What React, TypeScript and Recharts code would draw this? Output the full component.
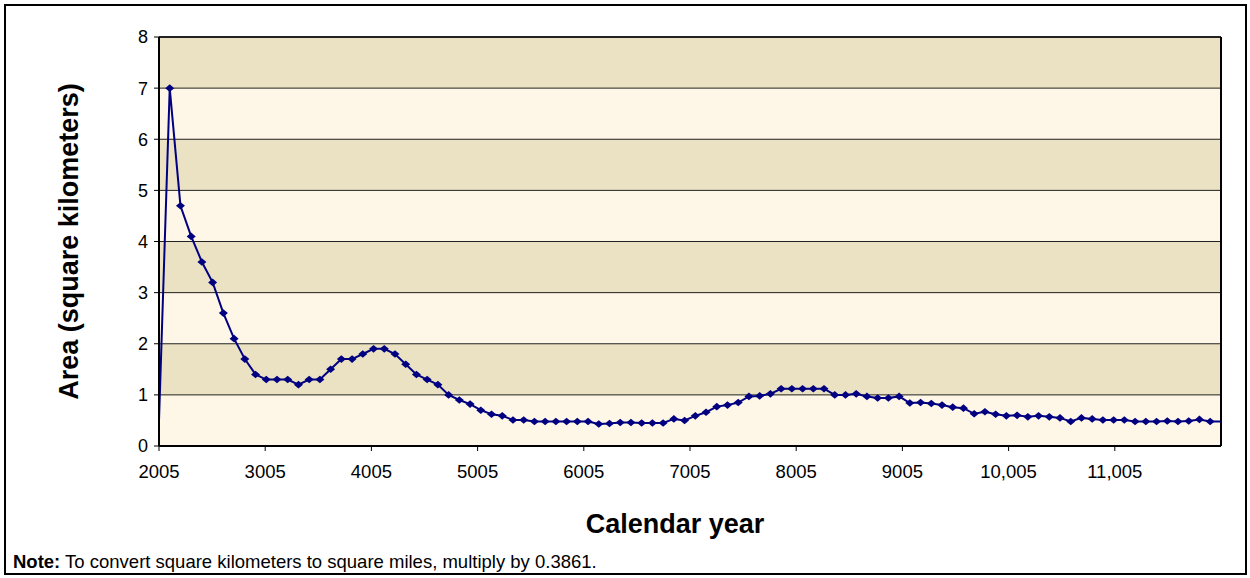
import {
  LineChart,
  Line,
  XAxis,
  YAxis,
  CartesianGrid,
  ReferenceLine,
  Label,
} from "recharts";

// sample years (100 samples spread evenly from 2005 to ~12,005)
const years = [
  2005, 2106, 2207, 2308, 2409, 2510, 2611, 2712, 2813, 2914,
  3015, 3116, 3217, 3318, 3419, 3520, 3621, 3722, 3823, 3924,
  4025, 4126, 4227, 4328, 4429, 4530, 4631, 4732, 4833, 4934,
  5035, 5136, 5237, 5338, 5439, 5540, 5641, 5742, 5843, 5944,
  6045, 6146, 6247, 6348, 6449, 6550, 6651, 6752, 6853, 6954,
  7055, 7156, 7257, 7358, 7459, 7560, 7661, 7762, 7863, 7964,
  8065, 8166, 8267, 8368, 8469, 8570, 8671, 8772, 8873, 8974,
  9075, 9176, 9277, 9378, 9479, 9580, 9681, 9782, 9883, 9984,
  10085, 10186, 10287, 10388, 10489, 10590, 10691, 10792, 10893, 10994,
  11095, 11196, 11297, 11398, 11499, 11600, 11701, 11802, 11903, 12004,
];

// area in square kilometers
const area = [
  0.5, 7, 4.7, 4.1, 3.6, 3.2, 2.6, 2.1, 1.7, 1.4,
  1.3, 1.3, 1.3, 1.2, 1.3, 1.3, 1.5, 1.7, 1.7, 1.8,
  1.9, 1.9, 1.8, 1.6, 1.4, 1.3, 1.2, 1.0, 0.9, 0.82,
  0.7, 0.62, 0.59, 0.51, 0.51, 0.48, 0.48, 0.48, 0.48, 0.48,
  0.48, 0.43, 0.44, 0.46, 0.46, 0.45, 0.45, 0.45, 0.53, 0.5,
  0.59, 0.66, 0.77, 0.8, 0.85, 0.97, 0.98, 1.02, 1.12, 1.12,
  1.12, 1.12, 1.12, 1.0, 1.0, 1.02, 0.97, 0.94, 0.94, 0.97,
  0.84, 0.85, 0.83, 0.8, 0.76, 0.74, 0.63, 0.67, 0.62, 0.59,
  0.6, 0.57, 0.59, 0.57, 0.55, 0.48, 0.55, 0.53, 0.51, 0.51,
  0.51, 0.48, 0.48, 0.48, 0.49, 0.48, 0.49, 0.52, 0.48, 0.48,
];

const xTicks = [2005, 3005, 4005, 5005, 6005, 7005, 8005, 9005, 10005, 11005];
const yTicks = [0, 1, 2, 3, 4, 5, 6, 7, 8];

const data = years.map((year, i) => ({ year, area: area[i] }));

const FONT = "'Liberation Sans', Arial, sans-serif";
const NAVY = "#000080";

function Diamond(props: any) {
  const { cx, cy, index } = props;
  // first and last samples sit on the plot edges, no marker there
  if (index === 0 || index === data.length - 1 || cx == null) {
    return <g key={`d-${index}`} />;
  }
  return (
    <path
      key={`d-${index}`}
      d={`M${cx - 4.5},${cy} L${cx},${cy - 3.8} L${cx + 4.5},${cy} L${cx},${cy + 3.8} Z`}
      fill={NAVY}
    />
  );
}

export default function App() {
  return (
    <div style={{ position: "absolute", left: 0, top: 0, width: 1250, height: 578, background: "#fff" }}>
      <div
        style={{
          position: "absolute",
          left: 4,
          top: 4,
          width: 1243,
          height: 571,
          border: "2px solid #000",
          boxSizing: "border-box",
        }}
      />
      <div style={{ position: "absolute", left: 0, top: 0 }}>
        <LineChart
          width={1250}
          height={578}
          data={data}
          margin={{ top: 37, right: 29, left: 0, bottom: 0 }}
        >
          <CartesianGrid
            vertical={false}
            stroke="#222"
            strokeOpacity={1}
            horizontalFill={["#EAE2C3", "#FEF6E6"]}
            fillOpacity={1}
          />
          <XAxis
            dataKey="year"
            type="number"
            domain={[2005, 12005]}
            ticks={xTicks}
            height={132}
            tickSize={5}
            tickMargin={14}
            axisLine={{ stroke: "#000", strokeWidth: 2 }}
            tickLine={{ stroke: "#000" }}
            tick={{ fill: "#000", fontSize: 18.5, fontFamily: FONT }}
            tickFormatter={(v: number) => (v >= 10000 ? v.toLocaleString("en-US") : String(v))}
          >
            <Label
              value="Calendar year"
              position="insideTop"
              offset={68}
              dx={-15}
              style={{ fill: "#000", fontSize: 27, fontWeight: "bold", fontFamily: FONT }}
            />
          </XAxis>
          <YAxis
            domain={[0, 8]}
            ticks={yTicks}
            width={159}
            tickSize={5}
            tickMargin={6}
            axisLine={{ stroke: "#000", strokeWidth: 2 }}
            tickLine={{ stroke: "#000" }}
            tick={{ fill: "#000", fontSize: 18, fontFamily: FONT }}
          >
            <Label
              value="Area (square kilometers)"
              angle={-90}
              position="insideLeft"
              offset={68}
              style={{ textAnchor: "middle", fill: "#000", fontSize: 27, fontWeight: "bold", fontFamily: FONT }}
            />
          </YAxis>
          <ReferenceLine x={12005} stroke="#000" strokeWidth={2} />
          <ReferenceLine y={8} stroke="#000" strokeWidth={1.5} />
          <Line
            type="linear"
            dataKey="area"
            stroke={NAVY}
            strokeWidth={2}
            dot={Diamond}
            activeDot={false}
            isAnimationActive={false}
          />
        </LineChart>
      </div>
      <div
        style={{
          position: "absolute",
          left: 13,
          top: 551,
          fontFamily: FONT,
          fontSize: 18.5,
          color: "#000",
          whiteSpace: "nowrap",
        }}
      >
        <b>Note:</b> To convert square kilometers to square miles, multiply by 0.3861.
      </div>
    </div>
  );
}
